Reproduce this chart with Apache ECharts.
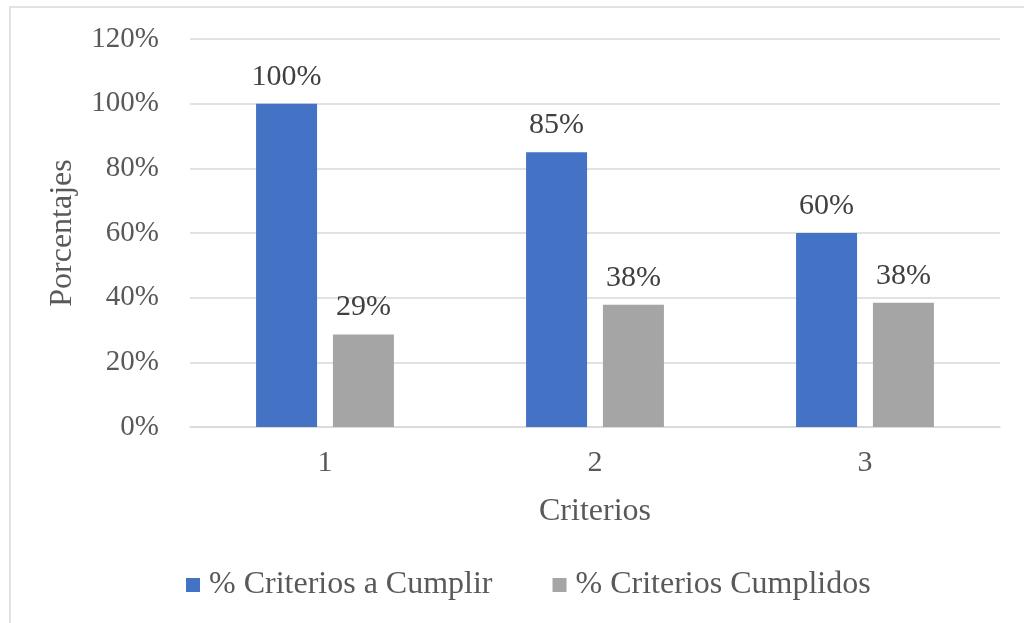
<!DOCTYPE html>
<html>
<head>
<meta charset="utf-8">
<script src="https://cdn.jsdelivr.net/npm/echarts@6/dist/echarts.min.js"></script>
<style>
  html, body { margin: 0; padding: 0; background: #fff; }
  #chart { width: 1024px; height: 623px; }
</style>
</head>
<body>
<div id="chart"></div>
<script>
// Categories and series values (fractions of 1)
const categories = ['1', '2', '3'];
const seriesNames = ['% Criterios a Cumplir', '% Criterios Cumplidos'];
const aCumplir = [1.00, 0.85, 0.60];
const cumplidos = [0.2857, 0.3780, 0.3846];

const FONT = '"Liberation Serif", "Times New Roman", serif';
const pct = v => Math.round(v * 100) + '%';

const chart = echarts.init(document.getElementById('chart'), null, { renderer: 'canvas' });

const labelStyle = {
  show: true,
  position: 'top',
  distance: 12,
  color: '#404040',
  fontFamily: FONT,
  fontSize: 30,
  formatter: p => pct(p.value)
};

chart.setOption({
  backgroundColor: '#fff',
  animation: false,
  graphic: [{
    type: 'rect',
    shape: { x: 10, y: 7, width: 1030, height: 640 },
    style: { fill: 'none', stroke: '#D9D9D9', lineWidth: 1.5 },
    silent: true
  }],
  grid: { left: 190, right: 24, top: 39, bottom: 196 },
  legend: {
    bottom: 17,
    left: 181,
    itemWidth: 14,
    itemHeight: 14,
    itemGap: 60,
    icon: 'rect',
    textStyle: { color: '#595959', fontFamily: FONT, fontSize: 32, padding: [0, 0, 0, 4] },
    data: seriesNames
  },
  xAxis: {
    type: 'category',
    data: categories,
    name: 'Criterios',
    nameLocation: 'middle',
    nameGap: 69,
    nameTextStyle: { color: '#595959', fontFamily: FONT, fontSize: 32 },
    axisLine: { lineStyle: { color: '#D9D9D9', width: 1.5 } },
    axisTick: { show: false },
    axisLabel: { color: '#595959', fontFamily: FONT, fontSize: 30, margin: 21 }
  },
  yAxis: {
    type: 'value',
    min: 0,
    max: 1.2,
    interval: 0.2,
    name: 'Porcentajes',
    nameLocation: 'middle',
    nameGap: 111,
    nameTextStyle: { color: '#595959', fontFamily: FONT, fontSize: 32 },
    axisLine: { show: false },
    axisTick: { show: false },
    splitLine: { lineStyle: { color: '#D9D9D9', width: 1.5 } },
    axisLabel: { color: '#595959', fontFamily: FONT, fontSize: 29, margin: 31, formatter: v => pct(v) }
  },
  series: [
    {
      name: seriesNames[0],
      type: 'bar',
      data: aCumplir,
      barWidth: 61,
      barGap: '26%',
      itemStyle: { color: '#4472C4' },
      label: labelStyle
    },
    {
      name: seriesNames[1],
      type: 'bar',
      data: cumplidos,
      barWidth: 61,
      itemStyle: { color: '#A5A5A5' },
      label: labelStyle
    }
  ]
});
</script>
</body>
</html>
